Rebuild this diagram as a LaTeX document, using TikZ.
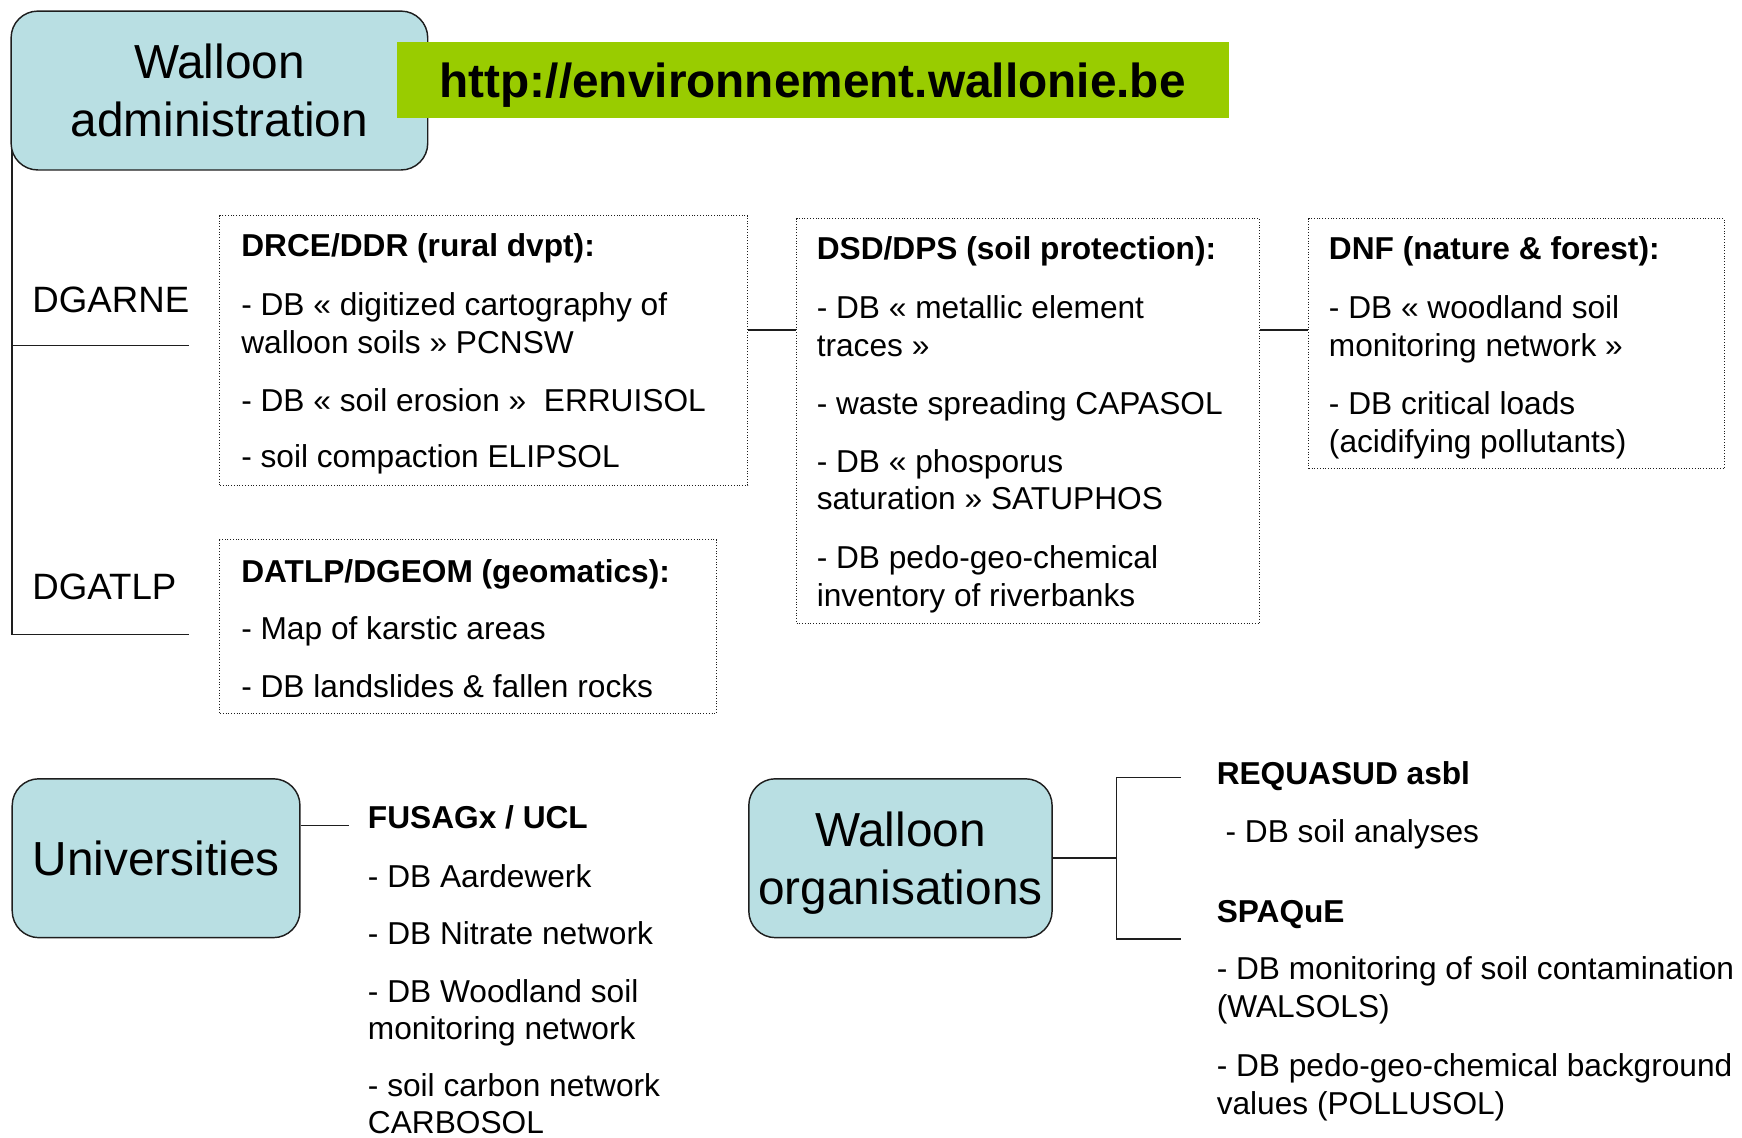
\documentclass[tikz,border=0pt]{standalone}
\usepackage{fontspec}
\setmainfont{Liberation Sans}
\definecolor{boxblue}{HTML}{B9DFE3}
\definecolor{urlgreen}{HTML}{99CC00}
\definecolor{linegray}{HTML}{1E1E1E}
\begin{document}
\begin{tikzpicture}[x=1pt,y=-1pt,
  bluebox/.style={draw=linegray, line width=1.3pt, fill=boxblue, rounded corners=24pt, inner sep=0pt, align=center, font=\fontsize{43}{52}\selectfont},
  dotbox/.style={draw=linegray, line width=0.9pt, dash pattern=on 0.9pt off 1.6pt, inner sep=0pt},
  conn/.style={draw=linegray, line width=1.4pt},
  body/.style={anchor=base west, inner sep=0pt, font=\fontsize{28.5}{34}\selectfont},
  head/.style={anchor=base west, inner sep=0pt, font=\fontsize{28.5}{34}\selectfont\bfseries},
  side/.style={anchor=base west, inner sep=0pt, font=\fontsize{33}{40}\selectfont}]
\useasboundingbox (0,0) rectangle (1568,1024);

% main boxes
\node[bluebox, minimum width=375pt, minimum height=143pt] (admin) at (197.5,81.5) {Walloon\\administration};
\node[fill=urlgreen, inner sep=0pt, minimum width=749pt, minimum height=68pt, text depth=0pt, font=\fontsize{43}{52}\selectfont\bfseries] (url) at (731.5,72) {http://environnement.wallonie.be};

% dotted boxes
\node[dotbox, minimum width=475pt, minimum height=243pt] (drce) at (435.5,315.5) {};
\node[dotbox, minimum width=417pt, minimum height=364pt] (dsd) at (925.5,379) {};
\node[dotbox, minimum width=374pt, minimum height=225pt] (dnf) at (1365,309.5) {};
\node[dotbox, minimum width=447pt, minimum height=156pt] (datlp) at (421.5,564) {};

% left tree
\coordinate (v0) at (11,135);
\coordinate (v1) at (11,311);
\coordinate (v2) at (11,571);
\coordinate (h1) at (170,311);
\coordinate (h2) at (170,571);
\draw[conn] (v0) -- (v2) -- (h2);
\draw[conn] (v1) -- (h1);
\node[side] (dgarne) at (29,281) {DGARNE};
\node[side] (dgatlp) at (29,540) {DGATLP};

% connectors between dotted boxes
\draw[conn] (drce.east |- 0,297) -- (dsd.west |- 0,297);
\draw[conn] (dsd.east |- 0,297) -- (dnf.west |- 0,297);

% DRCE texts
\node[head] (t11) at (217,231) {DRCE/DDR (rural dvpt):};
\node[body] (t12) at (217,284) {- DB « digitized cartography of};
\node[body] (t13) at (217,318) {walloon soils » PCNSW};
\node[body] (t14) at (217,370) {- DB « soil erosion »\ \ ERRUISOL};
\node[body] (t15) at (217,421) {- soil compaction ELIPSOL};

% DSD texts
\node[head] (t21) at (735,234) {DSD/DPS (soil protection):};
\node[body] (t22) at (735,287) {- DB « metallic element};
\node[body] (t23) at (735,321) {traces »};
\node[body] (t24) at (735,373) {- waste spreading CAPASOL};
\node[body] (t25) at (735,425) {- DB « phosporus};
\node[body] (t26) at (735,459) {saturation » SATUPHOS};
\node[body] (t27) at (735,512) {- DB pedo-geo-chemical};
\node[body] (t28) at (735,546) {inventory of riverbanks};

% DNF texts
\node[head] (t31) at (1196,234) {DNF (nature \& forest):};
\node[body] (t32) at (1196,287) {- DB « woodland soil};
\node[body] (t33) at (1196,321) {monitoring network »};
\node[body] (t34) at (1196,373) {- DB critical loads};
\node[body] (t35) at (1196,407) {(acidifying pollutants)};

% DATLP texts
\node[head] (t41) at (217,524) {DATLP/DGEOM (geomatics):};
\node[body] (t42) at (217,576) {- Map of karstic areas};
\node[body] (t43) at (217,628) {- DB landslides \& fallen rocks};

% Universities
\node[bluebox, minimum width=259pt, minimum height=143pt] (uni) at (140.5,772.5) {Universities};
\coordinate (u1) at (314,743);
\draw[conn] (uni.east |- u1) -- (u1);
\node[head] (t51) at (331,746) {FUSAGx / UCL};
\node[body] (t52) at (331,799) {- DB Aardewerk};
\node[body] (t53) at (331,850) {- DB Nitrate network};
\node[body] (t54) at (331,902) {- DB Woodland soil};
\node[body] (t55) at (331,936) {monitoring network};
\node[body] (t56) at (331,987) {- soil carbon network};
\node[body] (t57) at (331,1020) {CARBOSOL};

% Walloon organisations
\node[bluebox, minimum width=273pt, minimum height=143pt, text depth=0pt] (org) at (810.5,772.5) {Walloon\\organisations};
\coordinate (b0) at (1005,772.5);
\coordinate (b1) at (1005,700);
\coordinate (b2) at (1005,845);
\coordinate (e1) at (1063,700);
\coordinate (e2) at (1063,845);
\draw[conn] (org.east) -- (b0);
\draw[conn] (e1) -- (b1) -- (b2) -- (e2);
\node[head] (t61) at (1095,706) {REQUASUD asbl};
\node[body] (t62) at (1103,758) {- DB soil analyses};
\node[head] (t63) at (1095,830) {SPAQuE};
\node[body] (t64) at (1095,882) {- DB monitoring of soil contamination};
\node[body] (t65) at (1095,916) {(WALSOLS)};
\node[body] (t66) at (1095,969) {- DB pedo-geo-chemical background};
\node[body] (t67) at (1095,1003) {values (POLLUSOL)};
\end{tikzpicture}
\end{document}
